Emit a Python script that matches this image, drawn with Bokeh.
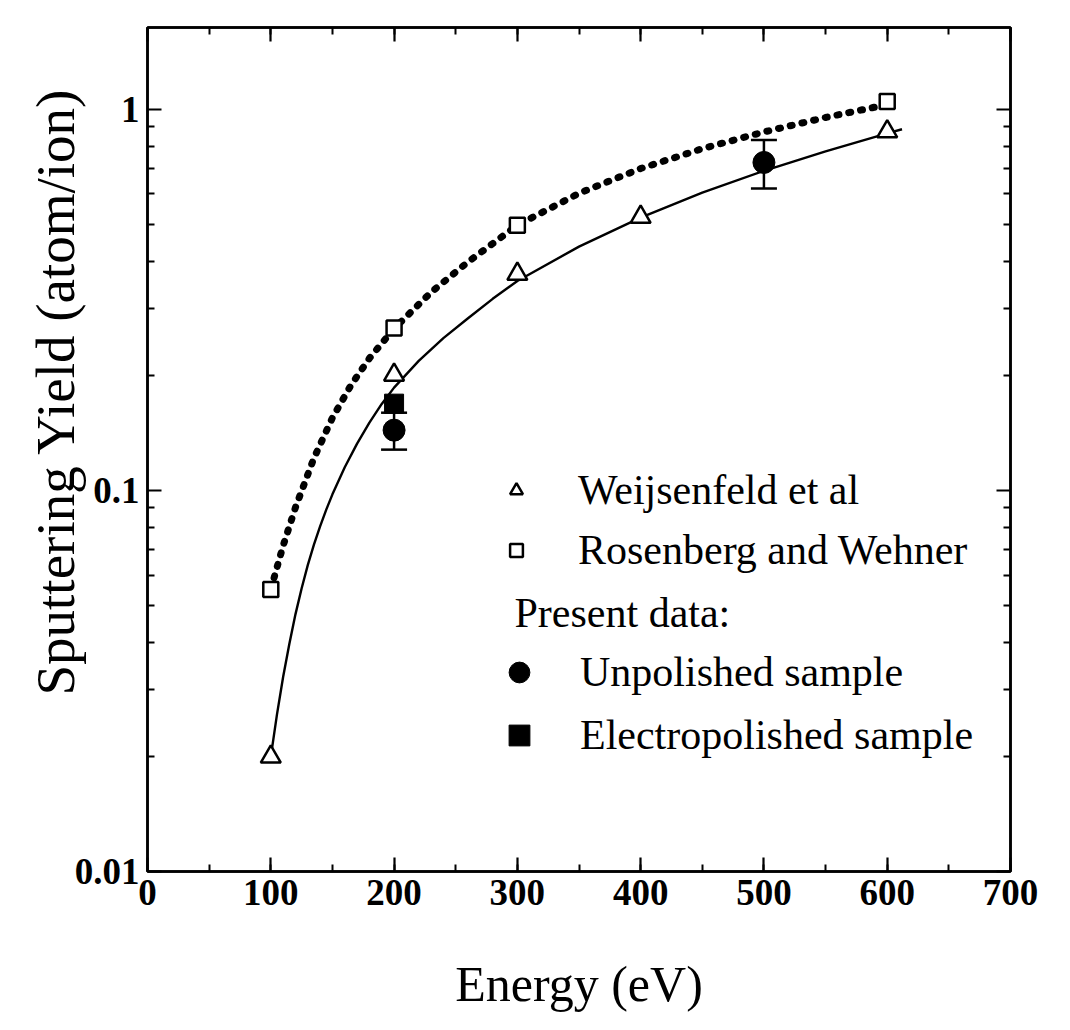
import math
from bokeh.plotting import figure
from bokeh.models import (Range1d, LinearAxis, LogAxis, SingleIntervalTicker, FixedTicker,
                          CustomJSTickFormatter, Legend, LegendItem, Whisker, ColumnDataSource,
                          Label, TeeHead, Title)
from bokeh.embed import file_html
from bokeh.resources import INLINE

# ---------------- data ----------------
weij_energy = [100, 200, 300, 400, 600]
weij_yield = [0.020, 0.201, 0.370, 0.522, 0.875]

ros_energy = [100, 200, 300, 600]
ros_yield = [0.055, 0.267, 0.497, 1.05]

unpol_energy = [200, 500]
unpol_yield = [0.144, 0.726]
unpol_low = [0.128, 0.620]
unpol_high = [0.160, 0.832]

elec_energy = [200]
elec_yield = [0.169]

# fitted curves
fit_solid_energy = [100, 105, 110, 115, 120, 125, 130, 135, 140, 145, 150, 160, 170, 180, 190,
                    200, 220, 240, 260, 280, 300, 350, 400, 450, 500, 550, 600, 612]
fit_solid_yield = [0.0200, 0.0258, 0.0324, 0.0395, 0.0473, 0.0553, 0.0637, 0.0721, 0.0805,
                   0.0891, 0.0977, 0.1151, 0.1327, 0.1507, 0.1687, 0.1862, 0.2188, 0.2512,
                   0.2831, 0.3184, 0.3548, 0.4365, 0.5200, 0.6053, 0.6902, 0.7762, 0.8650, 0.8872]

fit_dot_energy = [100, 110, 120, 135, 150, 165, 180, 200, 230, 260, 300, 350, 400, 450, 500, 550, 600]
fit_dot_yield = [0.0550, 0.0716, 0.0902, 0.1216, 0.1552, 0.1888, 0.2223, 0.2661, 0.3311,
                 0.3981, 0.4966, 0.6026, 0.6998, 0.7889, 0.8730, 0.9528, 1.030]

x_interval = 100
y_major = [0.01, 0.1, 1]
y_minor = [k * 10.0 ** e for e in (-2, -1, 0) for k in range(2, 10)]

x_title = "Energy (eV)"
y_title = "Sputtering Yield (atom/ion)"

FONT = "Liberation Serif"

p = figure(frame_width=863, frame_height=844,
           x_range=Range1d(0, 700), y_range=Range1d(0.01, 1.641),
           y_axis_type="log", output_backend="svg", toolbar_location=None,
           min_border_left=147, min_border_right=60, min_border_top=27, min_border_bottom=159,
           background_fill_color="white", border_fill_color="white")
p.grid.visible = False
p.outline_line_color = "black"
p.outline_line_width = 2.5


def style_axis(ax, show_labels=True):
    ax.axis_line_width = 2.5
    ax.axis_line_color = "black"
    ax.major_tick_in = 14
    ax.major_tick_out = 0
    ax.minor_tick_in = 7
    ax.minor_tick_out = 0
    ax.major_tick_line_width = 2.2
    ax.minor_tick_line_width = 2
    ax.major_tick_line_color = "black"
    ax.minor_tick_line_color = "black"
    ax.major_label_text_font = FONT
    ax.major_label_text_color = "black"
    if show_labels:
        ax.major_label_text_font_style = "bold"
        ax.major_label_text_font_size = "37px"
        ax.major_label_standoff = 8
        ax.axis_label_text_font = FONT
        ax.axis_label_text_font_style = "normal"
        ax.axis_label_text_color = "black"
    else:
        ax.formatter = CustomJSTickFormatter(code="return '';")
        ax.major_label_text_font_size = "10px"
        ax.major_label_standoff = 0


xa = p.xaxis[0]
xa.ticker = SingleIntervalTicker(interval=x_interval, num_minor_ticks=2)
style_axis(xa)
xa.axis_label = x_title
xa.axis_label_text_font_size = "50px"
xa.axis_label_standoff = 48

ya = p.yaxis[0]
ya.ticker = FixedTicker(ticks=y_major, minor_ticks=y_minor)
ya.formatter = CustomJSTickFormatter(code="return tick.toString();")
style_axis(ya)

top = LinearAxis(ticker=SingleIntervalTicker(interval=x_interval, num_minor_ticks=2))
style_axis(top, False)
p.add_layout(top, "above")

right = LogAxis(ticker=FixedTicker(ticks=y_major, minor_ticks=y_minor))
style_axis(right, False)
p.add_layout(right, "right")

# y-axis title as a left-side title, shifted up like the original
p.add_layout(Title(text=y_title, align="left", offset=176, standoff=-28,
                   text_font=FONT, text_font_size="55px", text_font_style="normal",
                   text_color="black"), "left")

# curves
p.line(fit_solid_energy, fit_solid_yield, line_color="black", line_width=2.4)
p.line(fit_dot_energy, fit_dot_yield, line_color="black", line_width=7,
       line_dash="2 10", line_cap="round")

# error bars
err_src = ColumnDataSource(dict(base=unpol_energy, lower=unpol_low, upper=unpol_high))
wh = Whisker(source=err_src, base="base", lower="lower", upper="upper", dimension="height",
             line_width=2.5, line_color="black",
             upper_head=TeeHead(size=26, line_width=2.5, line_color="black"),
             lower_head=TeeHead(size=26, line_width=2.5, line_color="black"),
             level="underlay")
p.add_layout(wh)

r_circ = p.scatter(unpol_energy, unpol_yield, marker="circle", size=22,
                   fill_color="black", line_color="black")
r_elec = p.scatter(elec_energy, elec_yield, marker="square", size=19,
                   fill_color="black", line_color="black")
r_tri = p.scatter(weij_energy, weij_yield, marker="triangle", size=20,
                  fill_color="white", line_color="black", line_width=2.5)
r_sq = p.scatter(ros_energy, ros_yield, marker="square", size=15,
                 fill_color="white", line_color="black", line_width=2.5)

common = dict(border_line_color=None, background_fill_alpha=0, padding=0, margin=0,
              label_text_font=FONT, label_text_font_size="42px", label_text_color="black")

leg1 = Legend(items=[LegendItem(label="Weijsenfeld et al", renderers=[r_tri]),
                     LegendItem(label="Rosenberg and Wehner", renderers=[r_sq])],
              location=(353, 296), glyph_width=32, glyph_height=50, label_height=50,
              spacing=10, label_standoff=46, **common)
p.add_layout(leg1)

leg2 = Legend(items=[LegendItem(label="Unpolished sample", renderers=[r_circ]),
                     LegendItem(label="Electropolished sample", renderers=[r_elec])],
              location=(346, 110), glyph_width=52, glyph_height=52, label_height=52,
              spacing=11, label_standoff=35, **common)
p.add_layout(leg2)

p.add_layout(Label(x=367, y=259, x_units="screen", y_units="screen", text="Present data:",
                   text_font=FONT, text_font_size="42px", text_align="left",
                   text_baseline="middle", text_color="black"))

open("out.html", "w").write(file_html(p, INLINE))
